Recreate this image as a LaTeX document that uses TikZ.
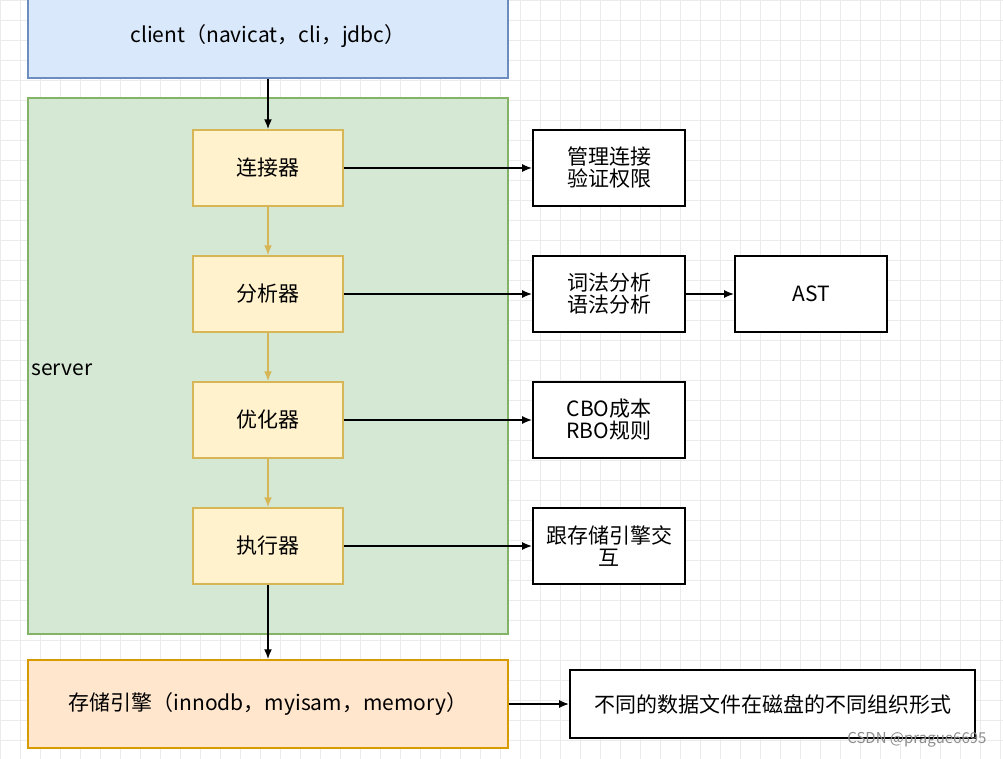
\documentclass[tikz,border=0pt]{standalone}
\usepackage{fontspec}
\setmainfont{Noto Sans CJK SC}
\usetikzlibrary{arrows.meta}
\begin{document}
\begin{tikzpicture}[x=1pt,y=-1pt,
 every node/.style={font=\fontsize{21}{26}\selectfont, align=center},
 yb/.style={draw={rgb,255:red,214;green,182;blue,86}, fill={rgb,255:red,255;green,242;blue,204}, line width=1.4pt, minimum width=150pt, minimum height=76pt},
 rb/.style={draw=black, fill=white, line width=1.6pt, minimum width=152pt, minimum height=76pt},
 arr/.style={-{Latex[length=10pt,width=8pt]}, line width=1.8pt},
 yarr/.style={-{Latex[length=10pt,width=8pt]}, line width=1.8pt, draw={rgb,255:red,214;green,182;blue,86}}]
\useasboundingbox (0,0) rectangle (1003,759);
\fill[white] (0,0) rectangle (1003,759);
\foreach \i in {0,20,...,1000} {\draw[black!8, line width=0.5pt] (\i,0) -- (\i,759);}
\foreach \j in {0,20,...,759} {\draw[black!8, line width=0.5pt] (0,\j) -- (1003,\j);}
\node[draw={rgb,255:red,108;green,142;blue,191}, fill={rgb,255:red,218;green,232;blue,252}, line width=1.4pt, minimum width=480pt, minimum height=83pt] (client) at (268,36.5) {client（navicat，cli，jdbc）};
\node[draw={rgb,255:red,130;green,179;blue,102}, fill={rgb,255:red,213;green,232;blue,212}, line width=1.4pt, minimum width=480pt, minimum height=536pt] (server) at (268,366) {};
\node[anchor=west] (slabel) at (28,370) {server};
\node[yb] (c) at (268,168) {连接器};
\node[yb] (a) at (268,294) {分析器};
\node[yb] (o) at (268,420) {优化器};
\node[yb] (e) at (268,546) {执行器};
\node[draw={rgb,255:red,215;green,155;blue,0}, fill={rgb,255:red,255;green,230;blue,204}, line width=1.4pt, minimum width=480pt, minimum height=88pt] (s) at (268,704) {存储引擎（innodb，myisam，memory）};
\node[rb] (r1) at (609,168) {管理连接\\[-4pt]验证权限};
\node[rb] (r2) at (609,294) {词法分析\\[-4pt]语法分析};
\node[rb] (r3) at (609,420) {CBO成本\\[-4pt]RBO规则};
\node[rb] (r4) at (609,546) {跟存储引擎交\\[-4pt]互};
\node[rb] (ast) at (811,294) {AST};
\node[rb, minimum width=405pt, minimum height=68pt] (disk) at (772.5,704) {不同的数据文件在磁盘的不同组织形式};
\draw[arr] (client) -- (c);
\draw[yarr] (c) -- (a);
\draw[yarr] (a) -- (o);
\draw[yarr] (o) -- (e);
\draw[arr] (e) -- (s);
\draw[arr] (c) -- (r1);
\draw[arr] (a) -- (r2);
\draw[arr] (o) -- (r3);
\draw[arr] (e) -- (r4);
\draw[arr] (r2) -- (ast);
\draw[arr] (s) -- (disk);
\node[anchor=east, text=black!45, font=\fontsize{15}{18}\selectfont] (wm) at (990,740) {CSDN @prague6695};
\end{tikzpicture}
\end{document}
